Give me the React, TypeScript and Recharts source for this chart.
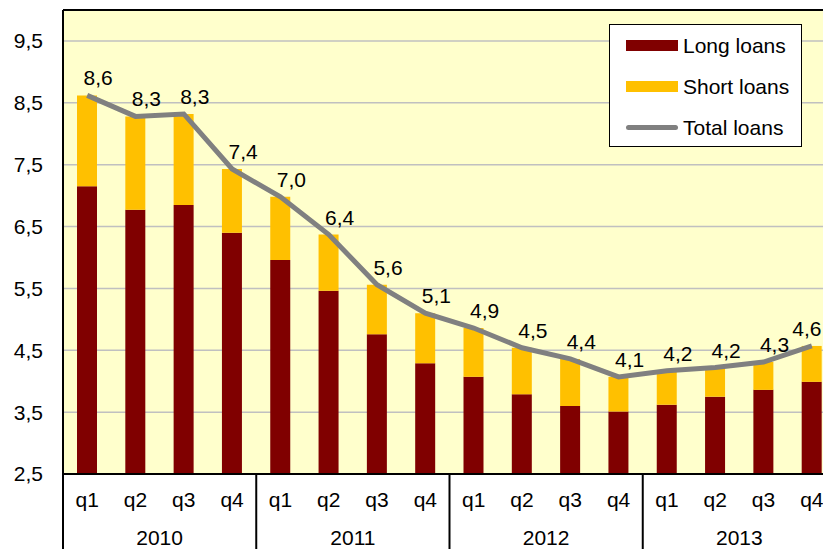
import { ComposedChart, Bar, Line, XAxis, YAxis, CartesianGrid, ReferenceLine, LabelList, Legend } from 'recharts'

const quarters = ['q1', 'q2', 'q3', 'q4', 'q1', 'q2', 'q3', 'q4', 'q1', 'q2', 'q3', 'q4', 'q1', 'q2', 'q3', 'q4']
const years = ['2010', '2011', '2012', '2013']
const longLoans = [7.15, 6.77, 6.85, 6.4, 5.96, 5.46, 4.76, 4.29, 4.07, 3.79, 3.6, 3.51, 3.62, 3.75, 3.86, 3.99]
const shortLoans = [1.47, 1.51, 1.47, 1.03, 1.02, 0.91, 0.8, 0.81, 0.79, 0.75, 0.76, 0.56, 0.55, 0.47, 0.45, 0.58]
const totalLoans = [8.62, 8.28, 8.32, 7.43, 6.98, 6.37, 5.56, 5.1, 4.86, 4.54, 4.36, 4.07, 4.17, 4.22, 4.31, 4.57]
const yTicks = [2.5, 3.5, 4.5, 5.5, 6.5, 7.5, 8.5, 9.5]

const data = quarters.map((q, i) => ({
  q,
  year: years[Math.floor(i / 4)],
  long: longLoans[i],
  short: shortLoans[i],
  total: totalLoans[i],
}))

const FONT = '"Liberation Sans", Arial, sans-serif'
const FS = 21
const Y_W = 63
const PLOT_W = 773
const BAND = PLOT_W / quarters.length
const comma = (v: number) => v.toFixed(1).replace('.', ',')

function QuarterTick(props: any) {
  const { x, y, payload, index } = props
  const i = payload?.index ?? index
  return (
    <g>
      <text x={x} y={y + 33} textAnchor="middle" fontSize={FS} fontFamily={FONT} fill="#000">{payload.value}</text>
      {i % 4 === 0 && (
        <>
          <line x1={x - BAND / 2} x2={x - BAND / 2} y1={y} y2={y + 100} stroke="#000" strokeWidth={2} />
          <text x={x + BAND * 1.5} y={y + 71} textAnchor="middle" fontSize={FS} fontFamily={FONT} fill="#000">
            {data[i].year}
          </text>
        </>
      )}
    </g>
  )
}

function TotalLabel(props: any) {
  const { x, y, value, index } = props
  const last = index === data.length - 1
  return (
    <text x={last ? x - 5 : x + 11} y={y - 10} textAnchor="middle" fontSize={FS} fontFamily={FONT} fill="#000">
      {comma(Number(value))}
    </text>
  )
}

function LegendBox() {
  const rows = [
    { name: 'Long loans', kind: 'bar', color: '#800000' },
    { name: 'Short loans', kind: 'bar', color: '#FFC000' },
    { name: 'Total loans', kind: 'line', color: '#808080' },
  ]
  return (
    <div style={{ width: 193, height: 123, boxSizing: 'border-box', border: '1px solid #000', background: '#fff', position: 'relative' }}>
      {rows.map((r, i) => (
        <div key={r.name} style={{ position: 'absolute', left: 0, top: i * 41, height: 41, display: 'flex', alignItems: 'center' }}>
          <div style={{ marginLeft: 16, width: 52, height: r.kind === 'bar' ? 11 : 5, borderRadius: r.kind === 'bar' ? 0 : 3, background: r.color }} />
          <span style={{ marginLeft: 5, fontSize: FS, fontFamily: FONT, color: '#000', whiteSpace: 'nowrap' }}>{r.name}</span>
        </div>
      ))}
    </div>
  )
}

export default function App() {
  return (
    <div style={{ position: 'absolute', left: 0, top: 0, width: 823, height: 549, overflow: 'hidden', background: '#fff' }}>
      <ComposedChart width={Y_W + PLOT_W + 5} height={560} data={data} margin={{ top: 10, right: 5, bottom: 0, left: 0 }}>
        <CartesianGrid vertical={false} stroke="#C0C0C0" strokeWidth={1.5} fill="#FFFFCC" />
        <XAxis dataKey="q" interval={0} height={86} tickSize={0} tickMargin={0} tickLine={false} axisLine={{ stroke: '#000', strokeWidth: 2 }} tick={<QuarterTick />} />
        <YAxis
          width={Y_W}
          domain={[2.5, 10]}
          ticks={yTicks}
          allowDataOverflow
          tickLine={false}
          tickMargin={14}
          axisLine={{ stroke: '#000', strokeWidth: 2 }}
          tickFormatter={comma}
          tick={{ fontSize: FS, fontFamily: FONT, fill: '#000' }}
        />
        <ReferenceLine y={10} stroke="#000" strokeWidth={2} />
        <Bar dataKey="long" name="Long loans" stackId="a" fill="#800000" barSize={20} isAnimationActive={false} />
        <Bar dataKey="short" name="Short loans" stackId="a" fill="#FFC000" barSize={20} isAnimationActive={false} />
        <Line dataKey="total" name="Total loans" stroke="#808080" strokeWidth={5} dot={false} activeDot={false} isAnimationActive={false}>
          <LabelList dataKey="total" content={<TotalLabel />} />
        </Line>
        <Legend
          layout="vertical"
          align="center"
          verticalAlign="middle"
          content={<LegendBox />}
          wrapperStyle={{ position: 'absolute', top: 24, left: 609, width: 193, height: 123 }}
        />
      </ComposedChart>
    </div>
  )
}
